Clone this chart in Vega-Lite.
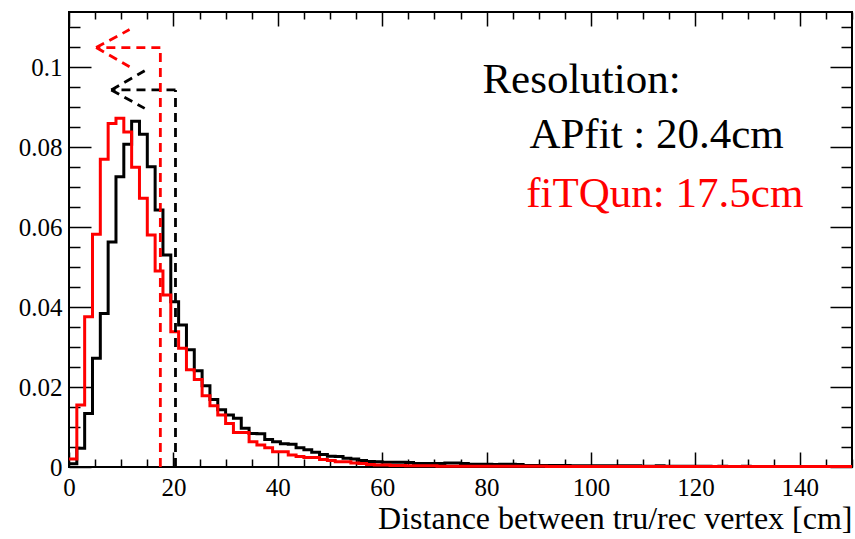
{
  "$schema": "https://vega.github.io/schema/vega-lite/v6.json",
  "width": 783,
  "height": 455,
  "autosize": {"type": "none"},
  "padding": {"left": 69, "top": 12, "right": 3, "bottom": 72},
  "background": "white",
  "config": {
    "view": {"stroke": "black", "strokeWidth": 2},
    "font": "Liberation Serif",
    "axis": {"labelFont": "Liberation Serif", "titleFont": "Liberation Serif", "titleFontWeight": "normal", "labelColor": "black", "titleColor": "black", "tickColor": "black", "tickWidth": 1.5, "grid": false, "domain": false, "labelFlush": false, "labelOverlap": false, "labelBound": false}
  },
  "datasets": {
    "hist": [
      {"method":"APfit","edge":0,"value":0.0008},{"method":"APfit","edge":1.5,"value":0.0047},{"method":"APfit","edge":3,"value":0.0134},{"method":"APfit","edge":4.5,"value":0.0272},{"method":"APfit","edge":6,"value":0.0384},{"method":"APfit","edge":7.5,"value":0.0563},{"method":"APfit","edge":9,"value":0.0726},{"method":"APfit","edge":10.5,"value":0.0807},{"method":"APfit","edge":12,"value":0.0865},{"method":"APfit","edge":13.5,"value":0.0832},
      {"method":"APfit","edge":15,"value":0.0751},{"method":"APfit","edge":16.5,"value":0.0643},{"method":"APfit","edge":18,"value":0.0530},{"method":"APfit","edge":19.5,"value":0.0413},{"method":"APfit","edge":21,"value":0.0355},{"method":"APfit","edge":22.5,"value":0.0293},{"method":"APfit","edge":24,"value":0.0241},{"method":"APfit","edge":25.5,"value":0.0203},{"method":"APfit","edge":27,"value":0.0169},{"method":"APfit","edge":28.5,"value":0.0143},
      {"method":"APfit","edge":30,"value":0.0130},{"method":"APfit","edge":31.5,"value":0.0122},{"method":"APfit","edge":33,"value":0.0097},{"method":"APfit","edge":34.5,"value":0.0084},{"method":"APfit","edge":36,"value":0.0083},{"method":"APfit","edge":37.5,"value":0.0069},{"method":"APfit","edge":39,"value":0.0063},{"method":"APfit","edge":40.5,"value":0.0058},{"method":"APfit","edge":42,"value":0.0057},{"method":"APfit","edge":43.5,"value":0.0048},
      {"method":"APfit","edge":45,"value":0.0043},{"method":"APfit","edge":46.5,"value":0.0037},{"method":"APfit","edge":48,"value":0.0031},{"method":"APfit","edge":49.5,"value":0.0027},{"method":"APfit","edge":51,"value":0.0026},{"method":"APfit","edge":52.5,"value":0.0022},{"method":"APfit","edge":54,"value":0.0020},{"method":"APfit","edge":55.5,"value":0.0016},{"method":"APfit","edge":57,"value":0.0014},{"method":"APfit","edge":58.5,"value":0.0013},
      {"method":"APfit","edge":60,"value":0.0012},{"method":"APfit","edge":61.5,"value":0.0012},{"method":"APfit","edge":63,"value":0.0012},{"method":"APfit","edge":64.5,"value":0.0011},{"method":"APfit","edge":66,"value":0.0009},{"method":"APfit","edge":67.5,"value":0.0009},{"method":"APfit","edge":69,"value":0.0009},{"method":"APfit","edge":70.5,"value":0.0009},{"method":"APfit","edge":72,"value":0.0010},{"method":"APfit","edge":73.5,"value":0.0010},
      {"method":"APfit","edge":75,"value":0.0009},{"method":"APfit","edge":76.5,"value":0.0007},{"method":"APfit","edge":78,"value":0.0007},{"method":"APfit","edge":79.5,"value":0.0007},{"method":"APfit","edge":81,"value":0.0006},{"method":"APfit","edge":82.5,"value":0.0007},{"method":"APfit","edge":84,"value":0.0007},{"method":"APfit","edge":85.5,"value":0.0006},{"method":"APfit","edge":87,"value":0.0004},{"method":"APfit","edge":88.5,"value":0.0004},
      {"method":"APfit","edge":90,"value":0.0004},{"method":"APfit","edge":91.5,"value":0.0004},{"method":"APfit","edge":93,"value":0.0004},{"method":"APfit","edge":94.5,"value":0.0004},{"method":"APfit","edge":96,"value":0.0003},{"method":"APfit","edge":97.5,"value":0.0003},{"method":"APfit","edge":99,"value":0.0003},{"method":"APfit","edge":100.5,"value":0.0003},{"method":"APfit","edge":102,"value":0.0003},{"method":"APfit","edge":103.5,"value":0.0003},
      {"method":"APfit","edge":105,"value":0.0003},{"method":"APfit","edge":106.5,"value":0.0003},{"method":"APfit","edge":108,"value":0.0003},{"method":"APfit","edge":109.5,"value":0.0002},{"method":"APfit","edge":111,"value":0.0002},{"method":"APfit","edge":112.5,"value":0.0003},{"method":"APfit","edge":114,"value":0.0002},{"method":"APfit","edge":115.5,"value":0.0002},{"method":"APfit","edge":117,"value":0.0002},{"method":"APfit","edge":118.5,"value":0.0002},
      {"method":"APfit","edge":120,"value":0.0002},{"method":"APfit","edge":121.5,"value":0.0002},{"method":"APfit","edge":123,"value":0.00015},{"method":"APfit","edge":124.5,"value":0.0002},{"method":"APfit","edge":126,"value":0.00015},{"method":"APfit","edge":127.5,"value":0.00015},{"method":"APfit","edge":129,"value":0.0002},{"method":"APfit","edge":130.5,"value":0.00015},{"method":"APfit","edge":132,"value":0.00015},{"method":"APfit","edge":133.5,"value":0.00015},
      {"method":"APfit","edge":135,"value":0.0001},{"method":"APfit","edge":136.5,"value":0.00015},{"method":"APfit","edge":138,"value":0.0001},{"method":"APfit","edge":139.5,"value":0.0001},{"method":"APfit","edge":141,"value":0.0001},{"method":"APfit","edge":142.5,"value":0.0001},{"method":"APfit","edge":144,"value":0.0001},{"method":"APfit","edge":145.5,"value":0.0001},{"method":"APfit","edge":147,"value":0.0001},{"method":"APfit","edge":148.5,"value":0.0001},
      {"method":"APfit","edge":150,"value":0.0001},
      {"method":"fiTQun","edge":0,"value":0.0020},{"method":"fiTQun","edge":1.5,"value":0.0155},{"method":"fiTQun","edge":3,"value":0.0376},{"method":"fiTQun","edge":4.5,"value":0.0582},{"method":"fiTQun","edge":6,"value":0.0770},{"method":"fiTQun","edge":7.5,"value":0.0859},{"method":"fiTQun","edge":9,"value":0.0872},{"method":"fiTQun","edge":10.5,"value":0.0838},{"method":"fiTQun","edge":12,"value":0.0750},{"method":"fiTQun","edge":13.5,"value":0.0672},
      {"method":"fiTQun","edge":15,"value":0.0580},{"method":"fiTQun","edge":16.5,"value":0.0490},{"method":"fiTQun","edge":18,"value":0.0430},{"method":"fiTQun","edge":19.5,"value":0.0338},{"method":"fiTQun","edge":21,"value":0.0297},{"method":"fiTQun","edge":22.5,"value":0.0243},{"method":"fiTQun","edge":24,"value":0.0219},{"method":"fiTQun","edge":25.5,"value":0.0178},{"method":"fiTQun","edge":27,"value":0.0153},{"method":"fiTQun","edge":28.5,"value":0.0130},
      {"method":"fiTQun","edge":30,"value":0.0109},{"method":"fiTQun","edge":31.5,"value":0.0086},{"method":"fiTQun","edge":33,"value":0.0086},{"method":"fiTQun","edge":34.5,"value":0.0063},{"method":"fiTQun","edge":36,"value":0.0055},{"method":"fiTQun","edge":37.5,"value":0.0048},{"method":"fiTQun","edge":39,"value":0.0038},{"method":"fiTQun","edge":40.5,"value":0.0038},{"method":"fiTQun","edge":42,"value":0.0030},{"method":"fiTQun","edge":43.5,"value":0.0026},
      {"method":"fiTQun","edge":45,"value":0.0024},{"method":"fiTQun","edge":46.5,"value":0.0024},{"method":"fiTQun","edge":48,"value":0.0019},{"method":"fiTQun","edge":49.5,"value":0.0016},{"method":"fiTQun","edge":51,"value":0.0013},{"method":"fiTQun","edge":52.5,"value":0.0013},{"method":"fiTQun","edge":54,"value":0.0010},{"method":"fiTQun","edge":55.5,"value":0.0009},{"method":"fiTQun","edge":57,"value":0.0006},{"method":"fiTQun","edge":58.5,"value":0.0005},
      {"method":"fiTQun","edge":60,"value":0.0005},{"method":"fiTQun","edge":61.5,"value":0.0004},{"method":"fiTQun","edge":63,"value":0.0004},{"method":"fiTQun","edge":64.5,"value":0.0003},{"method":"fiTQun","edge":66,"value":0.0003},{"method":"fiTQun","edge":67.5,"value":0.0003},{"method":"fiTQun","edge":69,"value":0.0003},{"method":"fiTQun","edge":70.5,"value":0.0002},{"method":"fiTQun","edge":72,"value":0.0002},{"method":"fiTQun","edge":73.5,"value":0.0002},
      {"method":"fiTQun","edge":75,"value":0.0002},{"method":"fiTQun","edge":76.5,"value":0.0002},{"method":"fiTQun","edge":78,"value":0.0002},{"method":"fiTQun","edge":79.5,"value":0.0002},{"method":"fiTQun","edge":81,"value":0.0002},{"method":"fiTQun","edge":82.5,"value":0.0002},{"method":"fiTQun","edge":84,"value":0.0002},{"method":"fiTQun","edge":85.5,"value":0.0002},{"method":"fiTQun","edge":87,"value":0.0002},{"method":"fiTQun","edge":88.5,"value":0.0002},
      {"method":"fiTQun","edge":90,"value":0.0002},{"method":"fiTQun","edge":91.5,"value":0.00015},{"method":"fiTQun","edge":93,"value":0.00015},{"method":"fiTQun","edge":94.5,"value":0.00015},{"method":"fiTQun","edge":96,"value":0.00015},{"method":"fiTQun","edge":97.5,"value":0.00015},{"method":"fiTQun","edge":99,"value":0.00015},{"method":"fiTQun","edge":100.5,"value":0.00015},{"method":"fiTQun","edge":102,"value":0.00015},{"method":"fiTQun","edge":103.5,"value":0.00015},
      {"method":"fiTQun","edge":105,"value":0.00015},{"method":"fiTQun","edge":106.5,"value":0.00015},{"method":"fiTQun","edge":108,"value":0.00015},{"method":"fiTQun","edge":109.5,"value":0.00015},{"method":"fiTQun","edge":111,"value":0.00015},{"method":"fiTQun","edge":112.5,"value":0.00015},{"method":"fiTQun","edge":114,"value":0.00015},{"method":"fiTQun","edge":115.5,"value":0.00015},{"method":"fiTQun","edge":117,"value":0.00015},{"method":"fiTQun","edge":118.5,"value":0.00015},
      {"method":"fiTQun","edge":120,"value":0.00015},{"method":"fiTQun","edge":121.5,"value":0.0001},{"method":"fiTQun","edge":123,"value":0.0001},{"method":"fiTQun","edge":124.5,"value":0.0001},{"method":"fiTQun","edge":126,"value":0.0001},{"method":"fiTQun","edge":127.5,"value":0.0001},{"method":"fiTQun","edge":129,"value":0.0001},{"method":"fiTQun","edge":130.5,"value":0.0001},{"method":"fiTQun","edge":132,"value":0.0001},{"method":"fiTQun","edge":133.5,"value":0.0001},
      {"method":"fiTQun","edge":135,"value":0.0001},{"method":"fiTQun","edge":136.5,"value":0.0001},{"method":"fiTQun","edge":138,"value":0.0001},{"method":"fiTQun","edge":139.5,"value":0.0001},{"method":"fiTQun","edge":141,"value":0.0001},{"method":"fiTQun","edge":142.5,"value":0.0001},{"method":"fiTQun","edge":144,"value":0.0001},{"method":"fiTQun","edge":145.5,"value":0.0001},{"method":"fiTQun","edge":147,"value":0.0001},{"method":"fiTQun","edge":148.5,"value":0.0001},
      {"method":"fiTQun","edge":150,"value":0.0001}
    ],
    "arrows": [
      {"method":"APfit","x1":20.4,"y1":0,"x2":20.4,"y2":0.0943},
      {"method":"APfit","x1":20.4,"y1":0.0943,"x2":8.1,"y2":0.0943},
      {"method":"APfit","x1":8.1,"y1":0.0943,"x2":14.5,"y2":0.0991},
      {"method":"APfit","x1":8.1,"y1":0.0943,"x2":14.5,"y2":0.0897},
      {"method":"fiTQun","x1":17.5,"y1":0,"x2":17.5,"y2":0.1049},
      {"method":"fiTQun","x1":17.5,"y1":0.1049,"x2":5.2,"y2":0.1049},
      {"method":"fiTQun","x1":5.2,"y1":0.1049,"x2":11.6,"y2":0.1094},
      {"method":"fiTQun","x1":5.2,"y1":0.1049,"x2":11.6,"y2":0.1001}
    ]
  },
  "layer": [
    {
      "data": {"name": "hist"},
      "mark": {"type": "line", "interpolate": "step-after", "strokeWidth": 3},
      "encoding": {
        "x": {"field": "edge", "type": "quantitative", "scale": {"domain": [0, 150], "nice": false, "zero": false},
          "axis": {"orient": "bottom", "values": [0,5,10,15,20,25,30,35,40,45,50,55,60,65,70,75,80,85,90,95,100,105,110,115,120,125,130,135,140,145,150],
            "labelExpr": "datum.value % 20 === 0 ? datum.label : ''",
            "tickSize": {"condition": {"test": "datum.value % 20 === 0", "value": -15}, "value": -8},
            "labelPadding": 23, "labelFontSize": 25,
            "title": "Distance between tru/rec vertex [cm]", "titleAnchor": "end", "titleFontSize": 32, "titlePadding": -4}},
        "y": {"field": "value", "type": "quantitative", "scale": {"domain": [0, 0.1138], "nice": false, "zero": false},
          "axis": {"orient": "left", "values": [0,0.005,0.01,0.015,0.02,0.025,0.03,0.035,0.04,0.045,0.05,0.055,0.06,0.065,0.07,0.075,0.08,0.085,0.09,0.095,0.1,0.105,0.11],
            "labelExpr": "round(datum.value*1000) % 20 === 0 ? format(datum.value, '~g') : ''",
            "tickSize": {"condition": {"test": "round(datum.value*1000) % 20 === 0", "value": -22}, "value": -11},
            "labelPadding": 29, "labelFontSize": 25, "title": null}},
        "color": {"field": "method", "type": "nominal", "scale": {"domain": ["APfit", "fiTQun"], "range": ["black", "#ff0000"]}, "legend": null}
      }
    },
    {
      "data": {"name": "arrows"},
      "mark": {"type": "rule", "strokeDash": [9, 6], "strokeWidth": 2.8},
      "encoding": {
        "x": {"field": "x1", "type": "quantitative", "scale": {"domain": [0, 150], "nice": false, "zero": false},
          "axis": {"orient": "top", "values": [0,5,10,15,20,25,30,35,40,45,50,55,60,65,70,75,80,85,90,95,100,105,110,115,120,125,130,135,140,145,150],
            "labels": false, "title": null,
            "tickSize": {"condition": {"test": "datum.value % 20 === 0", "value": -14}, "value": -7}}},
        "x2": {"field": "x2"},
        "y": {"field": "y1", "type": "quantitative", "scale": {"domain": [0, 0.1138], "nice": false, "zero": false},
          "axis": {"orient": "right", "values": [0,0.005,0.01,0.015,0.02,0.025,0.03,0.035,0.04,0.045,0.05,0.055,0.06,0.065,0.07,0.075,0.08,0.085,0.09,0.095,0.1,0.105,0.11],
            "labels": false, "title": null,
            "tickSize": {"condition": {"test": "round(datum.value*1000) % 20 === 0", "value": -22}, "value": -11}}},
        "y2": {"field": "y2"},
        "color": {"field": "method", "type": "nominal", "scale": {"domain": ["APfit", "fiTQun"], "range": ["black", "#ff0000"]}, "legend": null}
      }
    },
    {
      "data": {"values": [{"label": "Resolution:"}]},
      "mark": {"type": "text", "align": "left", "baseline": "alphabetic", "fontSize": 43, "font": "Liberation Serif", "color": "black"},
      "encoding": {
        "x": {"datum": 79.2, "type": "quantitative", "axis": null},
        "y": {"datum": 0.0935, "type": "quantitative", "axis": null},
        "text": {"field": "label"}
      }
    },
    {
      "data": {"values": [{"label": "APfit : 20.4cm"}]},
      "mark": {"type": "text", "align": "left", "baseline": "alphabetic", "fontSize": 43, "font": "Liberation Serif", "color": "black"},
      "encoding": {
        "x": {"datum": 88.2, "type": "quantitative", "axis": null},
        "y": {"datum": 0.0797, "type": "quantitative", "axis": null},
        "text": {"field": "label"}
      }
    },
    {
      "data": {"values": [{"label": "fiTQun: 17.5cm"}]},
      "mark": {"type": "text", "align": "left", "baseline": "alphabetic", "fontSize": 43, "font": "Liberation Serif", "color": "#ff0000"},
      "encoding": {
        "x": {"datum": 87.6, "type": "quantitative", "axis": null},
        "y": {"datum": 0.0651, "type": "quantitative", "axis": null},
        "text": {"field": "label"}
      }
    }
  ],
  "resolve": {"axis": {"x": "independent", "y": "independent"}}
}
